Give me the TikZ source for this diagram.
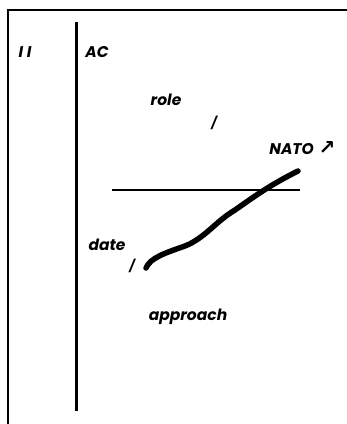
\documentclass[tikz,border=0pt]{standalone}
\usepackage{fontspec}
\setmainfont{Poppins}
\newfontfamily\symfont{DejaVu Sans}
\usepackage{tikz}

\begin{document}
\begin{tikzpicture}[x=1pt, y=-1pt, word/.style={font=\fontsize{15.5}{18}\selectfont\bfseries\itshape, inner sep=0pt}]
    \useasboundingbox (0, 0) rectangle (347, 424);

    % frame, cut off at right and bottom
    \draw[line width=2.8pt] (8, 430) -- (8, 10) -- (350, 10);
    \draw[line width=3pt] (76, 22) -- (76, 411);

    % left column
    \node[word] (ii) at (25, 52) {I I};
    \node[word] (ac) at (97, 52) {AC};

    % upper words
    \node[word] (role) at (166, 100) {role};
    \node[word, font=\fontsize{12}{14}\selectfont\bfseries\itshape] (slashA) at (214, 123) {/};
    \node[word, anchor=east] (nato) at (314, 149) {NATO};
    \node[inner sep=0pt] (arrow) at (327, 148) {\fontsize{20}{20}\selectfont\symfont\bfseries ↗};

    % horizontal line
    \draw[line width=2pt] (112, 190) -- (300, 190);

    % thick hand-drawn stroke
    \draw[line width=5.5pt, line cap=round, line join=round]
        (146, 268) .. controls (150, 258) and (165, 253) .. (185, 246)
        .. controls (205, 238) and (215, 222) .. (235, 210)
        .. controls (255, 196) and (270, 185) .. (298, 171);

    % lower words
    \node[word] (date) at (107, 245) {date};
    \node[word, font=\fontsize{12}{14}\selectfont\bfseries\itshape] (slashB) at (132, 266) {/};
    \node[word] (approach) at (188, 317) {approach};
\end{tikzpicture}
\end{document}
